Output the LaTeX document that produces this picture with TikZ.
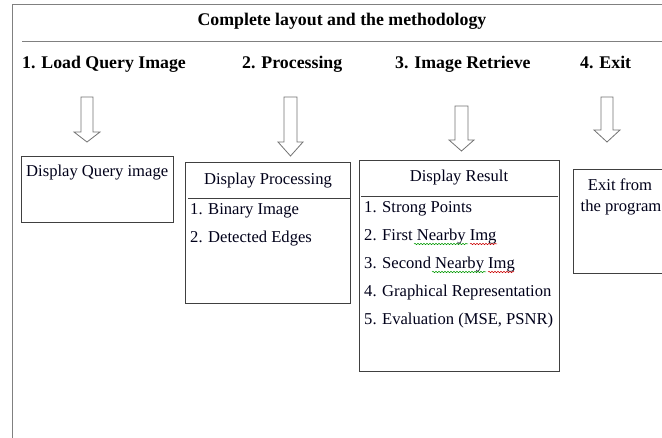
\documentclass[tikz,border=0pt]{standalone}
\usepackage{fontspec}
\setmainfont{Liberation Serif}
\usetikzlibrary{decorations.pathmorphing}
\tikzset{
  frameline/.style={draw=black!50, line width=1pt},
  boxline/.style={draw=black!75, line width=0.9pt},
  barrow/.style={draw=black!55, line width=0.8pt, fill=white},
  heading/.style={font=\fontsize{17.8}{20}\selectfont\bfseries, inner sep=0pt, anchor=base},
  body/.style={font=\fontsize{16.6}{19}\selectfont, inner sep=0pt, text=black!90!blue},
  item/.style={body, anchor=base west},
  panel/.style={boxline, anchor=north west, inner sep=0pt},
  greensq/.style={draw=green!60!black, line width=0.5pt, decorate, decoration={snake, amplitude=0.7pt, segment length=3pt}},
  redsq/.style={draw=red!80!black, line width=0.5pt, decorate, decoration={snake, amplitude=0.7pt, segment length=3pt}}
}
\begin{document}
\begin{tikzpicture}[x=1pt, y=-1pt]
\useasboundingbox (0,0) rectangle (662,438);
\clip (0,0) rectangle (662,438);
% outer frame
\coordinate (fbl) at (12,440);
\coordinate (ftl) at (12,5);
\coordinate (ftr) at (664,5);
\coordinate (dl) at (22,42);
\coordinate (dr) at (664,42);
\draw[frameline] (fbl) -- (ftl) -- (ftr);
\draw[frameline] (dl) -- (dr);
\node[heading] (title) at (342,26) {Complete layout and the methodology};
% headings
\node[heading, anchor=base west] (h1) at (22,69) {1. Load Query Image};
\node[heading, anchor=base west] (h2) at (242,69) {2. Processing};
\node[heading, anchor=base west] (h3) at (395,69) {3. Image Retrieve};
\node[heading, anchor=base west] (h4) at (580,69) {4. Exit};
% block arrows
\draw[barrow] (81,97) -- (93,97) -- (93,132) -- (100,132) -- (87,142) -- (74,132) -- (81,132) -- cycle;
\draw[barrow] (284,97) -- (297,97) -- (297,142) -- (303,142) -- (290.5,156) -- (278,142) -- (284,142) -- cycle;
\draw[barrow] (455,106) -- (468,106) -- (468,140) -- (474,140) -- (461.5,151) -- (449,140) -- (455,140) -- cycle;
\draw[barrow] (601,97) -- (613,97) -- (613,130) -- (620,130) -- (607,142) -- (594,130) -- (601,130) -- cycle;
% box 1
\node[panel, minimum width=152pt, minimum height=66pt] (b1) at (21,156) {};
\node[item] (t1) at (26,177) {Display Query image};
% box 2
\node[panel, minimum width=165pt, minimum height=141pt] (b2) at (185,162) {};
\draw[boxline] ([yshift=-36pt]b2.north west) ++(3,0) coordinate (d2l) -- ([yshift=-36pt]b2.north east) coordinate (d2r);
\node[body, anchor=base] (t2) at (268,185) {Display Processing};
\node[item] (t2a) at (190,215) {1. Binary Image};
\node[item] (t2b) at (190,243) {2. Detected Edges};
% box 3
\node[panel, minimum width=200pt, minimum height=211pt] (b3) at (359,160) {};
\draw[boxline] ([yshift=-36pt]b3.north west) ++(2,0) -- ([yshift=-36pt,xshift=-2pt]b3.north east);
\node[body, anchor=base] (t3) at (459,182) {Display Result};
\node[item] (t3a) at (364,213) {1. Strong Points};
\node[item] (t3b) at (364,241) {2. First Nearby Img};
\node[item] (t3c) at (364,269) {3. Second Nearby Img};
\node[item] (t3d) at (364,297) {4. Graphical Representation};
\node[item] (t3e) at (364,325) {5. Evaluation (MSE, PSNR)};
\draw[greensq] (414,244) -- (468,244);
\draw[redsq] (470,244) -- (497,244);
\draw[greensq] (432,272) -- (486,272);
\draw[redsq] (488,272) -- (514,272);
% box 4
\node[panel, minimum width=100pt, minimum height=104pt] (b4) at (573,169) {};
\node[body, anchor=base] (t4a) at (620,191) {Exit from};
\node[body, anchor=base] (t4b) at (621,212) {the program};
\end{tikzpicture}
\end{document}
